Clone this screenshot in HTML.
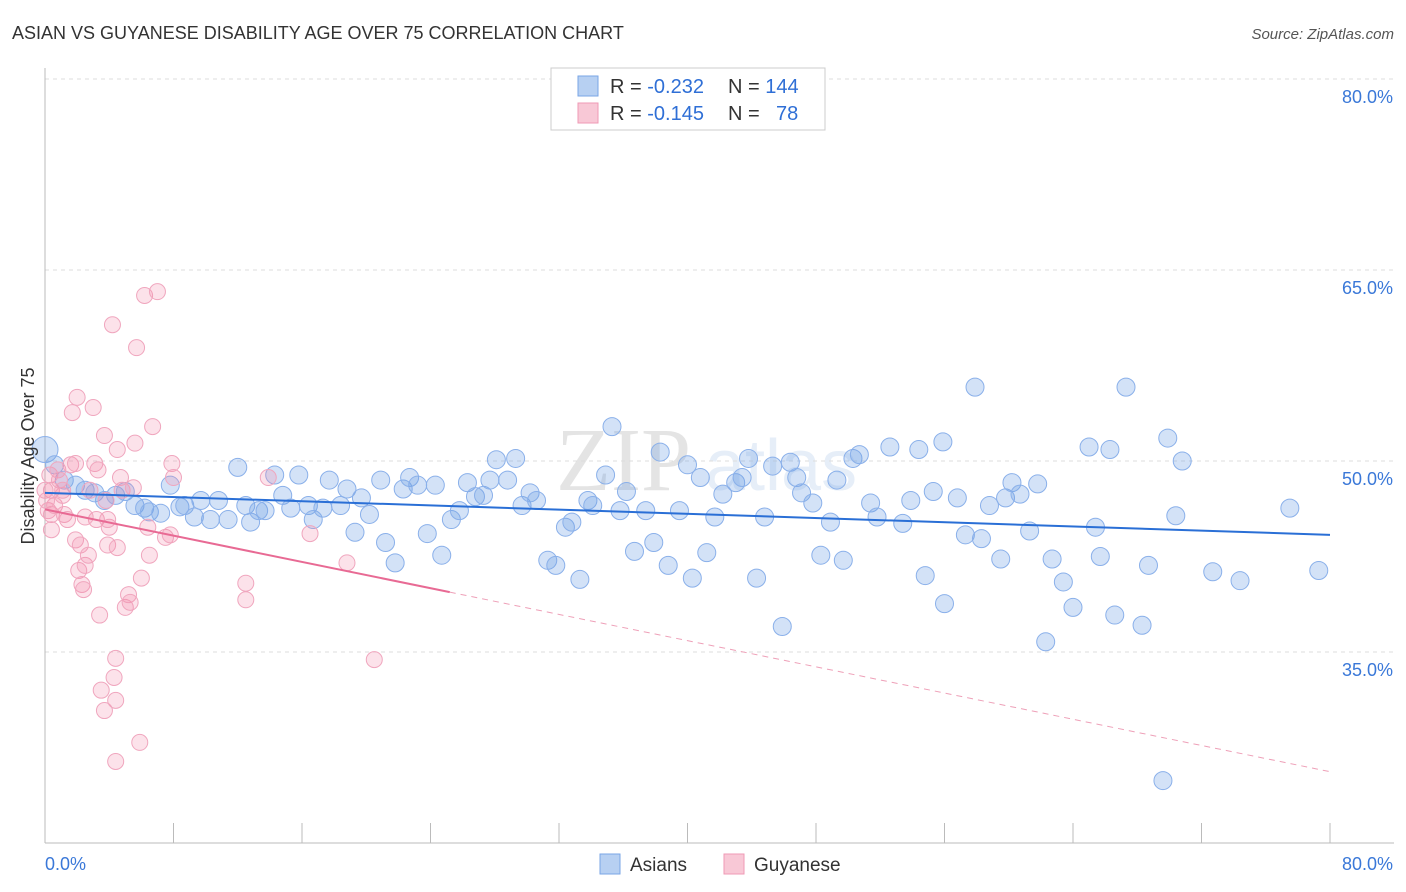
<!DOCTYPE html>
<html><head><meta charset="utf-8"><style>
body{margin:0;background:#fff;font-family:"Liberation Sans",sans-serif;}
svg{display:block}
</style></head><body>
<svg id="chart" width="1406" height="892" xmlns="http://www.w3.org/2000/svg">
<text x="12" y="39" font-size="18" fill="#333">ASIAN VS GUYANESE DISABILITY AGE OVER 75 CORRELATION CHART</text>
<text x="1394" y="39" font-size="15" fill="#555" font-style="italic" text-anchor="end">Source: ZipAtlas.com</text>
<text x="556" y="490" font-size="90" fill="#e4e4e4" font-family="Liberation Serif">ZIP</text>
<text x="705" y="490" font-size="72" fill="#e6eef8">atlas</text>
<g id="grid"></g>
<g id="axes"></g>
<g id="marks"></g>
<text transform="translate(34,456) rotate(-90)" font-size="18" fill="#333" text-anchor="middle">Disability Age Over 75</text>
<g>
<rect x="551" y="68" width="274" height="62" fill="#fff" stroke="#ccc"/>
<rect x="578" y="76" width="20" height="20" fill="#b7d0f2" stroke="#7aa6e6"/>
<rect x="578" y="103" width="20" height="20" fill="#f8c8d6" stroke="#ef9ab5"/>
<text x="610" y="93" font-size="20" fill="#333">R = <tspan fill="#2f6fd6">-0.232</tspan><tspan x="728">N = </tspan><tspan fill="#2f6fd6">144</tspan></text>
<text x="610" y="120" font-size="20" fill="#333">R = <tspan fill="#2f6fd6">-0.145</tspan><tspan x="728">N = </tspan><tspan x="776" fill="#2f6fd6">78</tspan></text>
</g>
<g><rect x="600" y="854" width="20" height="20" fill="#b7d0f2" stroke="#7aa6e6"/><text x="630" y="871" font-size="19" fill="#333">Asians</text></g>
<g><rect x="724" y="854" width="20" height="20" fill="#f8c8d6" stroke="#ef9ab5"/><text x="754" y="871" font-size="19" fill="#333">Guyanese</text></g>
</svg>
<script>
const yTicks=[35,50,65,80];
const xTickLabels=["0.0%","80.0%"];
const asianX=[0,0.6,1.2,1.9,2.5,3.1,3.7,4.4,5.0,5.6,6.2,6.5,7.2,7.8,8.4,8.7,9.3,9.7,10.3,10.8,11.4,12.0,12.5,12.8,13.3,13.7,14.3,14.8,15.3,15.8,16.4,16.7,17.3,17.7,18.4,18.8,19.3,19.7,20.2,20.9,21.2,21.8,22.3,22.7,23.2,23.8,24.3,24.7,25.3,25.8,26.3,26.8,27.3,27.7,28.1,28.8,29.3,29.7,30.2,30.6,31.3,31.8,32.4,32.8,33.3,33.8,34.1,34.9,35.3,35.8,36.2,36.7,37.4,37.9,38.3,38.8,39.5,40.0,40.3,40.8,41.2,41.7,42.2,43.0,43.4,43.8,44.3,44.8,45.3,45.9,46.4,46.8,47.1,47.8,48.3,48.9,49.3,49.7,50.3,50.7,51.4,51.8,52.6,53.4,53.9,54.4,54.8,55.3,55.9,56.0,56.8,57.3,57.9,58.3,58.8,59.5,59.8,60.2,60.7,61.3,61.8,62.3,62.7,63.4,64.0,65.0,65.4,65.7,66.3,66.6,67.3,68.3,68.7,69.9,70.4,70.8,69.6,72.7,74.4,77.5,79.3];
const asianY=[50.9,49.7,48.5,48.1,47.7,47.5,46.9,47.3,47.6,46.5,46.3,46.0,45.9,48.1,46.4,46.5,45.6,46.9,45.4,46.9,45.4,49.5,46.5,45.2,46.1,46.1,48.9,47.3,46.3,48.9,46.5,45.4,46.3,48.5,46.5,47.8,44.4,47.1,45.8,48.5,43.6,42.0,47.8,48.7,48.1,44.3,48.1,42.6,45.4,46.1,48.3,47.2,47.3,48.5,50.1,48.5,50.2,46.5,47.5,46.9,42.2,41.8,44.8,45.2,40.7,46.9,46.5,48.9,52.7,46.1,47.6,42.9,46.1,43.6,50.7,41.8,46.1,49.7,40.8,48.7,42.8,45.6,47.4,48.3,48.7,50.2,40.8,45.6,49.6,37.0,49.9,48.7,47.5,46.7,42.6,45.2,48.5,42.2,50.2,50.5,46.7,45.6,51.1,45.1,46.9,50.9,41.0,47.6,51.5,38.8,47.1,44.2,55.8,43.9,46.5,42.3,47.1,48.3,47.4,44.5,48.2,35.8,42.3,40.5,38.5,51.1,44.8,42.5,50.9,37.9,55.8,37.1,41.8,51.8,45.7,50.0,24.9,41.3,40.6,46.3,41.4];
const guyX=[0.3,0.4,0.2,0.4,0.6,0.8,0.9,1.1,1.2,1.4,1.6,1.7,1.9,2.0,2.1,2.2,2.3,2.4,2.5,2.7,2.8,3.0,3.1,3.2,3.3,3.4,3.5,3.7,3.7,3.8,3.9,4.0,4.2,4.3,4.4,4.4,4.5,4.5,4.7,4.8,5.0,5.2,5.3,5.5,5.6,5.7,5.9,6.0,6.2,6.4,6.5,6.7,7.0,7.5,7.8,7.9,8.0,12.5,12.5,13.9,16.5,18.8,20.5,0.4,0,0.1,1.1,1.9,2.5,3.9,4.4];
const guyY=[48.9,47.7,46.1,45.8,46.5,49.3,48.5,47.3,45.8,45.4,49.7,53.8,43.8,55.0,41.4,43.4,40.3,39.9,41.8,42.6,47.7,54.2,49.8,45.4,49.3,37.9,32.0,30.4,52.0,46.9,43.4,44.8,60.7,33.0,31.2,34.5,43.2,50.9,48.7,47.7,38.5,39.5,38.9,47.9,51.4,58.9,27.9,40.8,63.0,44.8,42.6,52.7,63.3,44.0,44.2,49.8,48.7,40.4,39.1,48.7,44.3,42.0,34.4,44.6,47.7,46.9,47.7,49.8,45.6,45.4,26.4];
const blueTrend=[[0,47.5],[80,44.2]];
const pinkTrend=[[0,46.2],[25.2,39.7],[80,25.6]];
const X=v=>45+v*16.0625, Y=v=>79+(80-v)*12.733;
const NS="http://www.w3.org/2000/svg";
function mk(t,a,p){const e=document.createElementNS(NS,t);for(const k in a)e.setAttribute(k,a[k]);p.appendChild(e);return e;}
const grid=document.getElementById('grid'),axes=document.getElementById('axes'),marks=document.getElementById('marks');
yTicks.forEach(t=>{
 const l=mk('line',{x1:45,x2:1394,y1:Y(t),y2:Y(t),stroke:'#ddd','stroke-dasharray':'4,4'},grid);
 
 
 const tx=mk('text',{x:1393,y:Y(t)+24,'font-size':18,fill:'#3a78d8','text-anchor':'end'},axes);
 tx.textContent=t.toFixed(1)+'%';
 
 
});
const ax=mk('line',{x1:45,x2:45,y1:68,y2:Y(20),stroke:'#bbb'},axes);


const bx=mk('line',{x1:45,x2:1394,y1:Y(20),y2:Y(20),stroke:'#bbb'},axes);


for(let i=1;i<=10;i++){const v=i*8;const tk=mk('line',{x1:X(v),x2:X(v),y1:Y(20),y2:Y(20)-20,stroke:'#bbb'},axes);
 
 }
[[0,'start'],[80,'end']].forEach((p,i)=>{const t=mk('text',{x:i?1393:45,y:870,'font-size':18,fill:'#3a78d8','text-anchor':p[1]},axes);t.textContent=xTickLabels[i];
 
 });
asianX.forEach((x,i)=>{const c=mk('circle',{cx:X(x),cy:Y(asianY[i]),r:i==0?13:9,fill:'rgba(110,160,230,0.3)',stroke:'#8ab0ea','stroke-width':1},marks);
 
 });
guyX.forEach((x,i)=>{const c=mk('circle',{cx:X(x),cy:Y(guyY[i]),r:8,fill:'rgba(242,140,172,0.25)',stroke:'#f0a6be','stroke-width':1},marks);
 
 });
const bl=mk('line',{x1:X(blueTrend[0][0]),y1:Y(blueTrend[0][1]),x2:X(blueTrend[1][0]),y2:Y(blueTrend[1][1]),stroke:'#2a6fd6','stroke-width':2},marks);


const pl=mk('line',{x1:X(pinkTrend[0][0]),y1:Y(pinkTrend[0][1]),x2:X(pinkTrend[1][0]),y2:Y(pinkTrend[1][1]),stroke:'#e86a94','stroke-width':2},marks);


const pd=mk('line',{x1:X(pinkTrend[1][0]),y1:Y(pinkTrend[1][1]),x2:X(pinkTrend[2][0]),y2:Y(pinkTrend[2][1]),stroke:'#eea0b8','stroke-width':1,'stroke-dasharray':'6,5'},marks);


</script>
</body></html>
